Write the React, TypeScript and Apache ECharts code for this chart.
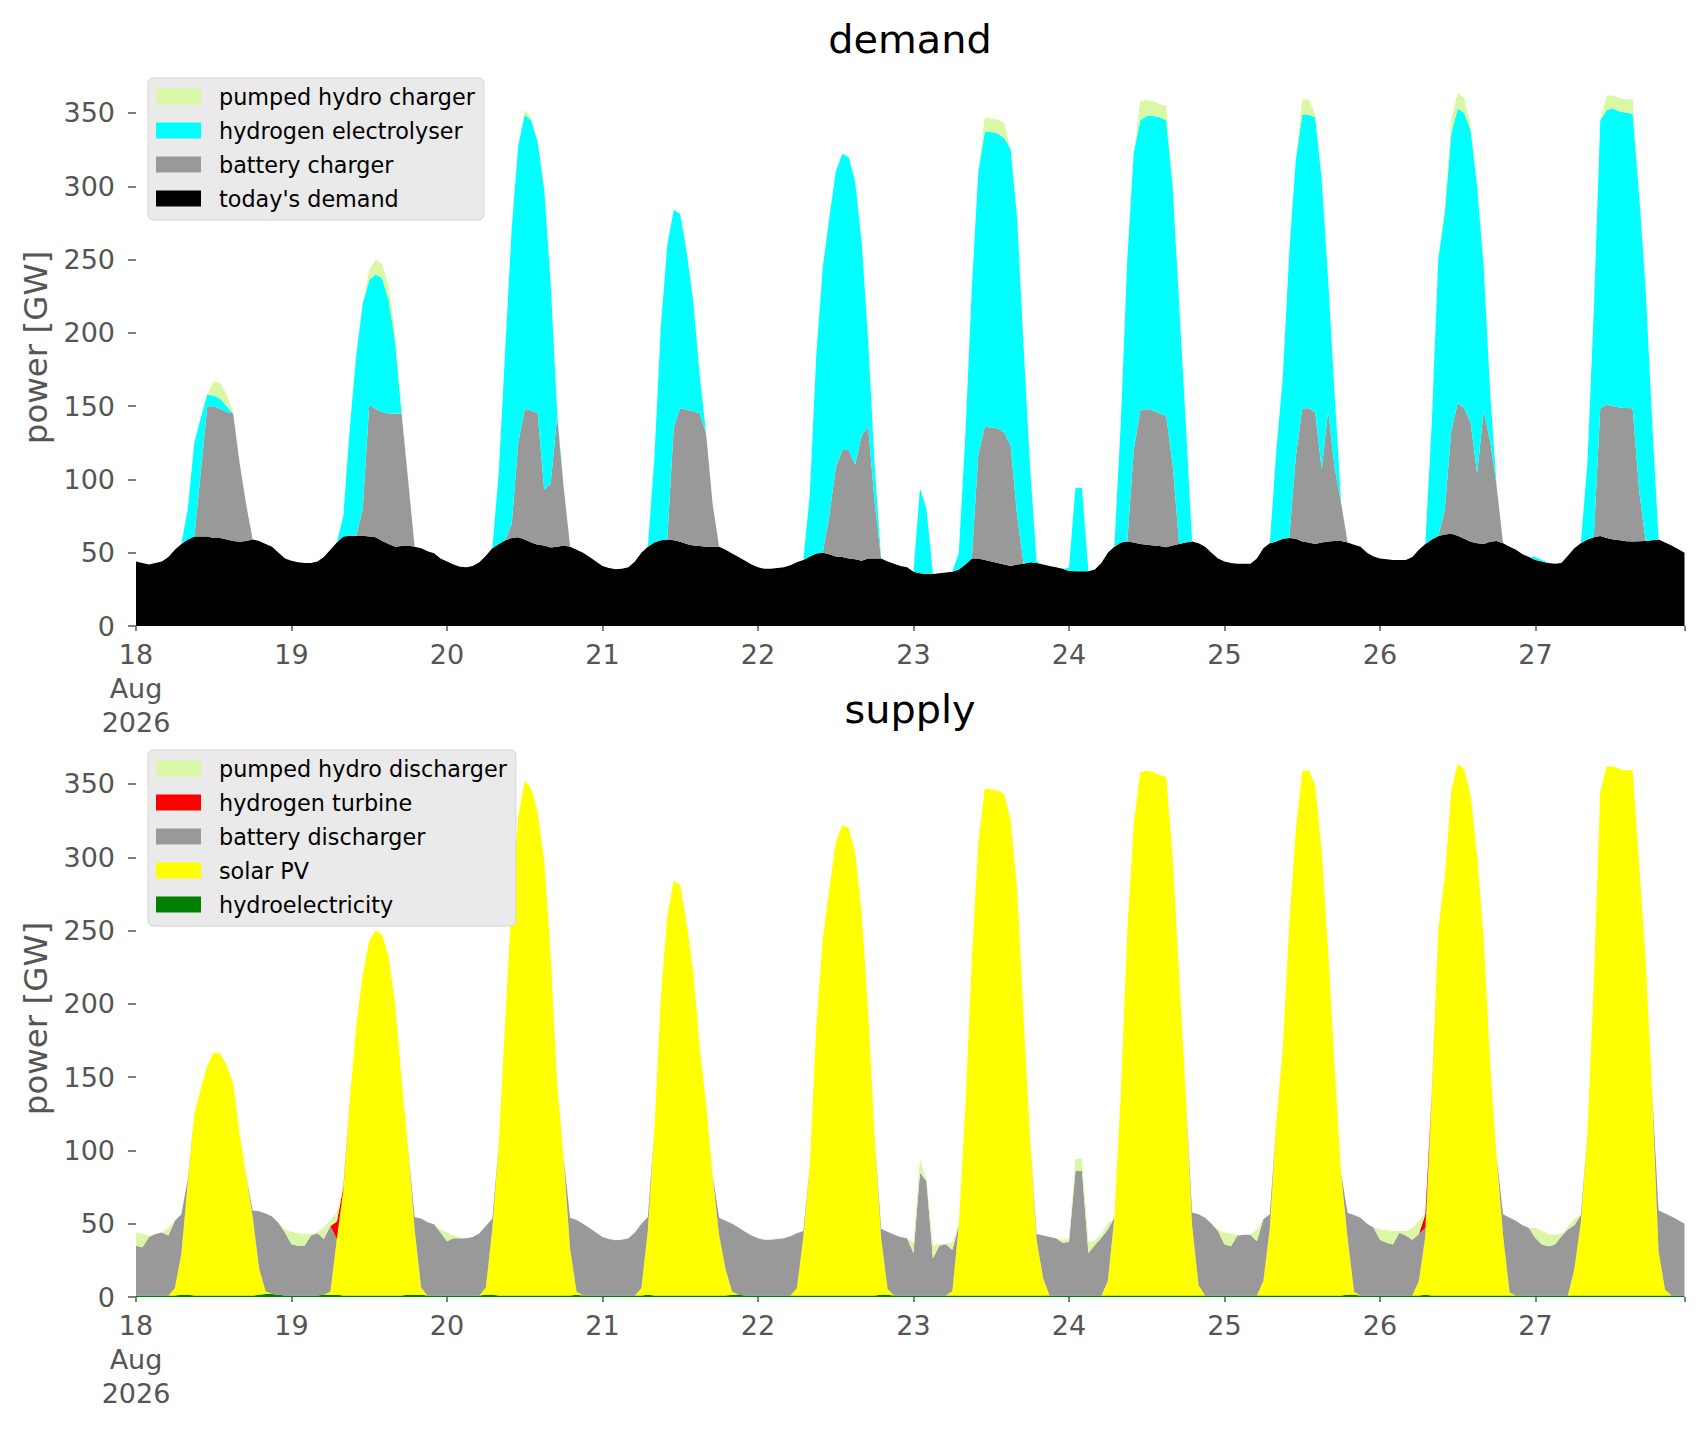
import { useEffect, useRef } from "react";
import * as echarts from "echarts";

// hourly values in GW, 18 Aug 2026 00:00 .. 27 Aug 2026 23:00 (one row per day)

const todaysDemand = [
  44, 43, 42, 43, 44, 47, 52, 56, 59, 61, 61, 61, 60, 60, 59, 58, 57.5, 58, 59, 58, 56, 54, 50, 46,
  44.5, 43.5, 43, 43, 44, 47, 52, 57, 61, 61.5, 61.5, 61.5, 61, 60.5, 58, 56, 54, 54.5, 55, 54, 53, 51, 49.6, 46,
  44, 42, 40.5, 40, 41, 43.5, 48, 53, 56, 58.5, 60, 60.5, 59, 57, 55.5, 55, 53.5, 54, 55, 54, 52, 50, 47, 44,
  41, 39.5, 38.7, 39, 40, 44, 50, 54, 57, 58.5, 59, 58.5, 57.5, 56, 55, 54.5, 54, 54, 54, 52, 49.5, 47, 44.5, 42,
  40, 39, 39, 39.5, 40, 41.5, 43.5, 45, 47.5, 49.5, 50, 49, 47.5, 47, 46, 45.5, 44.5, 46, 46, 46, 44, 42.5, 41, 40,
  37, 36, 35.5, 35.5, 36, 36.5, 37, 38.5, 42, 46, 46, 45, 44, 43, 42, 41, 42, 42.5, 43.5, 43, 42, 41, 40, 39,
  37.5, 37.4, 37.4, 37.4, 38.5, 43, 50, 54, 57, 57.6, 57, 56, 55.5, 55, 54.5, 53.8, 55, 56, 57, 57.6, 56.5, 54, 50, 46,
  44, 43, 42.5, 42.4, 42.4, 46, 53, 56.5, 57.6, 59.5, 60, 59.5, 57.6, 57, 56, 57, 57.6, 58, 58, 57, 55.5, 54, 50, 47.5,
  46, 45.5, 45, 45, 45, 47, 52, 56, 59, 61.4, 62.5, 63, 61.5, 59.5, 57.5, 56.5, 56, 57.5, 58, 56.5, 54, 52, 49, 47,
  45, 44, 43, 42.5, 43, 48, 53, 56.5, 59, 60.5, 61.4, 60, 59, 58.5, 57.8, 57.6, 57.8, 58, 58.5, 59, 57, 55, 52.5, 50,
];

const batteryCharger = [
  0, 0, 0, 0, 0, 0, 0, 0, 0, 0, 44, 89, 90, 88, 87, 87, 53.5, 25, 0, 0, 0, 0, 0, 0,
  0, 0, 0, 0, 0, 0, 0, 0, 0, 0, 0, 18.5, 90, 87.5, 88, 89, 91, 90.5, 45, 0, 0, 0, 0, 0,
  0, 0, 0, 0, 0, 0, 0, 0, 0, 0, 10, 64.5, 89, 90, 89.5, 38, 43.5, 89, 40, 0, 0, 0, 0, 0,
  0, 0, 0, 0, 0, 0, 0, 0, 0, 0, 0, 77.5, 91, 91.5, 91.5, 90.5, 77, 29, 0, 0, 0, 0, 0, 0,
  0, 0, 0, 0, 0, 0, 0, 0, 0, 0, 0, 26, 60.5, 73, 74, 64.5, 85.5, 90, 39, 0, 0, 0, 0, 0,
  0, 0, 0, 0, 0, 0, 0, 0, 0, 0, 71, 91, 91.5, 91.7, 90, 82, 33, 0, 0, 0, 0, 0, 0, 0,
  0, 0, 0, 0, 0, 0, 0, 0, 0, 0, 63, 91, 92.5, 92, 90.5, 89.7, 55, 0, 0, 0, 0, 0, 0, 0,
  0, 0, 0, 0, 0, 0, 0, 0, 0, 0, 0, 55.5, 91, 91.6, 90, 50, 89.4, 50, 26, 0, 0, 0, 0, 0,
  0, 0, 0, 0, 0, 0, 0, 0, 0, 0, 16.5, 70, 90.5, 89, 81, 47.5, 91, 68.5, 37.5, 0, 0, 0, 0, 0,
  0, 0, 0, 0, 0, 0, 0, 0, 0, 0, 87, 91, 91, 90.5, 91, 91, 35, 0, 0, 0, 0, 0, 0, 0,
];

const hydrogenElectrolyser = [
  0, 0, 0, 0, 0, 0, 0, 0, 21, 64, 37, 8, 7, 7, 4, 0, 0, 0, 0, 0, 0, 0, 0, 0,
  0, 0, 0, 0, 0, 0, 0, 0, 14, 73.5, 123.5, 140, 85, 92, 91, 77, 49, 0, 0, 0, 0, 0, 0, 0,
  0, 0, 0, 0, 0, 0, 0, 0, 49, 131.5, 202, 203, 201, 198, 185, 205, 137, 3, 0, 0, 0, 0, 0, 0,
  0, 0, 0, 0, 0, 0, 0, 0, 57, 145.5, 201, 148, 132.4, 107.5, 75.5, 26, 0, 0, 0, 0, 0, 0, 0, 0,
  0, 0, 0, 0, 0, 0, 0, 0, 42.5, 135.5, 195, 203, 202, 202, 200, 193, 132, 59, 25, 0, 0, 0, 0, 0,
  0, 58, 44.5, 0, 0, 0, 0, 11.5, 88, 184, 193, 201, 201.5, 201.3, 201, 202, 203, 147.5, 64.5, 1, 0, 0, 0, 0,
  2, 57, 57, 0, 0, 0, 0, 0, 82, 193, 203, 198, 200, 201, 202, 201.5, 190, 164, 83, 0, 0, 0, 0, 0,
  0, 0, 0, 0, 0, 0, 0, 0, 62, 110, 195, 203, 200, 200, 201, 198, 89, 50, 0, 0, 0, 0, 0, 0,
  0, 0, 0, 0, 0, 0, 0, 0, 80.5, 189, 203, 203, 201, 201.4, 199.5, 196, 98, 34, 0, 0, 0, 0, 0, 0,
  2, 1, 0, 0, 0, 0, 0, 0, 51, 154.5, 196.4, 201, 203, 202, 201.4, 200.8, 202, 172, 81.5, 0, 0, 0, 0, 0,
];

const pumpedHydroCharger = [
  0, 0, 0, 0, 0, 0, 0, 0, 0, 0, 0, 0, 10, 11, 8, 1, 0, 0, 0, 0, 0, 0, 0, 0,
  0, 0, 0, 0, 0, 0, 0, 0, 0, 0, 0, 0, 7, 10, 10, 10, 6, 3, 1, 0, 0, 0, 0, 0,
  0, 0, 0, 0, 0, 0, 0, 0, 0, 0, 0, 0, 3, 2, 0, 0, 0, 0, 0, 0, 0, 0, 0, 0,
  0, 0, 0, 0, 0, 0, 0, 0, 0, 0, 0, 0, 0, 0, 0, 0, 0, 0, 0, 0, 0, 0, 0, 0,
  0, 0, 0, 0, 0, 0, 0, 0, 0, 0, 0, 0, 0, 0, 0, 0, 0, 0, 0, 0, 0, 0, 0, 0,
  0, 0, 0, 0, 0, 0, 0, 0, 0, 0, 0, 10, 9, 9.5, 10, 0, 0, 0, 0, 0, 0, 0, 0, 0,
  0, 0, 0, 0, 0, 0, 0, 0, 0, 0, 0, 13, 11, 10, 9, 10, 1, 0, 0, 0, 0, 0, 0, 0,
  0, 0, 0, 0, 0, 0, 0, 0, 0, 0, 0, 0, 10, 11, 2, 0, 0, 0, 0, 0, 0, 0, 0, 0,
  0, 0, 0, 0, 0, 0, 0, 0, 0, 0, 5, 9, 11, 10, 4, 1, 0, 0, 0, 0, 0, 0, 0, 0,
  0, 0, 0, 0, 0, 0, 0, 0, 0, 0, 0, 10, 9, 9, 9, 10, 1, 0, 0, 0, 0, 0, 0, 0,
];

const hydroelectricity = [
  1, 1, 1, 1, 1, 1, 1, 1.5, 1.5, 1, 1, 1, 1, 1, 1, 1, 1, 1, 1, 1.5, 2, 2, 1.5, 1,
  1, 1, 1, 1, 1, 1.5, 1.5, 1.5, 1, 1, 1, 1, 1, 1, 1, 1, 1, 1, 1.5, 1.5, 1.5, 1, 1, 1,
  1, 1, 1, 1, 1, 1, 1.5, 1.5, 1, 1, 1, 1, 1, 1, 1, 1, 1, 1, 1, 1, 1.5, 1, 1, 1,
  1, 1, 1, 1, 1, 1, 1, 1.5, 1, 1, 1, 1, 1, 1, 1, 1, 1, 1, 1, 1, 1.5, 1.5, 1, 1,
  1, 1, 1, 1, 1, 1, 1, 1, 1, 1, 1, 1, 1, 1, 1, 1, 1, 1, 1, 1.5, 1.5, 1, 1, 1,
  1, 1, 1, 1, 1, 1, 1, 1, 1, 1, 1, 1, 1, 1, 1, 1, 1, 1, 1, 1, 1, 1, 1, 1,
  1, 1, 1, 1, 1, 1, 1, 1, 1, 1, 1, 1, 1, 1, 1, 1, 1, 1, 1, 1, 1, 1, 1, 1,
  1, 1, 1, 1, 1, 1, 1, 1, 1, 1, 1, 1, 1, 1, 1, 1, 1, 1, 1, 1.5, 1.5, 1, 1, 1,
  1, 1, 1, 1, 1, 1, 1, 1.5, 1, 1, 1, 1, 1, 1, 1, 1, 1, 1, 1, 1, 1, 1, 1, 1,
  1, 1, 1, 1, 1, 1, 1, 1, 1, 1, 1, 1, 1, 1, 1, 1, 1, 1, 1, 1, 1, 1, 1, 1,
];

const solarPV = [
  0, 0, 0, 0, 0, 0, 5, 28, 77, 124, 141, 157, 166, 165, 157, 145, 110, 82, 54, 18, 2, 0, 0, 0,
  0, 0, 0, 0, 0, 0, 2, 38, 72, 134, 184, 219, 242, 249, 246, 231, 199, 147, 100, 45, 5, 0, 0, 0,
  0, 0, 0, 0, 0, 0, 5, 45, 104, 189, 271, 327, 351, 346, 329, 297, 233, 145, 94, 32, 2, 0, 0, 0,
  0, 0, 0, 0, 0, 0, 5, 44, 113, 203, 259, 283, 280, 254, 221, 170, 130, 82, 41, 18, 2, 0, 0, 0,
  0, 0, 0, 0, 0, 0, 5, 40, 89, 184, 244, 277, 309, 321, 319, 302, 261, 194, 109, 39, 4, 0, 0, 0,
  0, 0, 0, 0, 0, 0, 3, 48, 129, 229, 309, 346, 345, 344.5, 342, 324, 277, 189, 107, 38, 12, 0, 0, 0,
  0, 0, 0, 0, 0, 0, 10, 53, 138, 249.6, 322, 357, 358, 357, 355, 354, 300, 219, 139, 48, 7, 0, 0, 0,
  0, 0, 0, 0, 0, 0, 10, 46, 118.6, 168.5, 254, 317, 357.6, 358.6, 348, 304, 235, 157, 83, 39, 2, 0, 0, 0,
  0, 0, 0, 0, 0, 0, 10, 40, 137, 249.4, 286, 344, 363, 359, 341, 300, 244, 159, 94.5, 41, 2, 0, 0, 0,
  0, 0, 0, 0, 0, 0, 18, 50, 109, 214, 343.8, 361, 361, 359, 358.2, 358.4, 294.8, 229, 139, 30, 4, 0, 0, 0,
];

const batteryDischarger = [
  34, 33, 40, 42, 43, 41, 46, 27, 2, 0, 0, 0, 0, 0, 0, 0, 0, 0, 4, 39, 53, 53, 49, 43,
  35, 34, 34, 41, 42.5, 38, 45, 0, 0, 0, 0, 0, 0, 0, 0, 0, 0, 0, 0, 8, 47, 50, 48.6, 43,
  37, 39, 39, 39, 40, 42.5, 42, 7, 0, 0, 0, 0, 0, 0, 0, 0, 0, 0, 0, 21, 49, 49, 46, 43,
  40, 38.5, 37.7, 38, 39, 43, 44, 9, 0, 0, 0, 0, 0, 0, 0, 0, 0, 0, 12, 33, 46.5, 46, 43.5, 41,
  39, 38, 38, 38.5, 39, 40.5, 37.5, 4, 0, 0, 0, 0, 0, 0, 0, 0, 0, 0, 0, 6, 39, 41.5, 40, 39,
  29, 84, 78, 25.5, 34, 35, 28, 0, 0, 0, 0, 0, 0, 0, 0, 0, 0, 0, 0, 4, 29, 40, 39, 36,
  36.5, 85, 85, 29, 34.5, 39.4, 35, 0, 0, 0, 0, 0, 0, 0, 0, 0, 0, 0, 0, 8.6, 48.5, 53, 49, 44,
  35, 33.6, 41, 41.4, 41.4, 37, 42, 9.5, 0, 0, 0, 0, 0, 0, 0, 0, 0, 0, 0, 17, 52.5, 53, 49, 46.5,
  38, 36, 34.8, 42.8, 41, 38, 32, 5.5, 0, 0, 0, 0, 0, 0, 0, 0, 0, 0, 0, 14.5, 51, 51, 48, 46,
  39, 34.8, 33.6, 34.8, 40.5, 45, 30, 5, 0, 0, 0, 0, 0, 0, 0, 0, 0, 0, 0, 28, 52, 54, 51.5, 49,
];

const hydrogenTurbine = [
  0, 0, 0, 0, 0, 0, 0, 0, 0, 0, 0, 0, 0, 0, 0, 0, 0, 0, 0, 0, 0, 0, 0, 0,
  0, 0, 0, 0, 0, 0, 0, 12, 2, 0, 0, 0, 0, 0, 0, 0, 0, 0, 0, 0, 0, 0, 0, 0,
  0, 0, 0, 0, 0, 0, 0, 0, 0, 0, 0, 0, 0, 0, 0, 0, 0, 0, 0, 0, 0, 0, 0, 0,
  0, 0, 0, 0, 0, 0, 0, 0, 0, 0, 0, 0, 0, 0, 0, 0, 0, 0, 0, 0, 0, 0, 0, 0,
  0, 0, 0, 0, 0, 0, 0, 0, 0, 0, 0, 0, 0, 0, 0, 0, 0, 0, 0, 0, 0, 0, 0, 0,
  0, 0, 0, 0, 0, 0, 0, 0, 0, 0, 0, 0, 0, 0, 0, 0, 0, 0, 0, 0, 0, 0, 0, 0,
  0, 0, 0, 0, 0, 0, 0, 0, 0, 0, 0, 0, 0, 0, 0, 0, 0, 0, 0, 0, 0, 0, 0, 0,
  0, 0, 0, 0, 0, 0, 0, 0, 0, 0, 0, 0, 0, 0, 0, 0, 0, 0, 0, 0, 0, 0, 0, 0,
  0, 0, 0, 0, 0, 0, 0, 9.5, 1.5, 0, 0, 0, 0, 0, 0, 0, 0, 0, 0, 0, 0, 0, 0, 0,
  0, 0, 0, 0, 0, 0, 0, 0, 0, 0, 0, 0, 0, 0, 0, 0, 0, 0, 0, 0, 0, 0, 0, 0,
];

const pumpedHydroDischarger = [
  9, 9, 1, 0, 0, 5, 0, 0, 0, 0, 0, 0, 0, 0, 0, 0, 0, 0, 0, 0, 0, 0, 0, 2,
  8.5, 8.5, 8, 1, 0.5, 8, 4, 6, 0, 0, 0, 0, 0, 0, 0, 0, 0, 0, 0, 0, 0, 0, 0, 2,
  6, 2, 0.5, 0, 0, 0, 0, 0, 0, 0, 0, 0, 0, 0, 0, 0, 0, 0, 0, 0, 0, 0, 0, 0,
  0, 0, 0, 0, 0, 0, 0, 0, 0, 0, 0, 0, 0, 0, 0, 0, 0, 0, 0, 0, 0, 0, 0, 0,
  0, 0, 0, 0, 0, 0, 0, 0, 0, 0, 0, 0, 0, 0, 0, 0, 0, 0, 0, 0, 0, 0, 0, 0,
  7, 9, 1, 9, 1, 0.5, 5, 1, 0, 0, 0, 0, 0, 0, 0, 0, 0, 0, 0, 0, 0, 0, 0, 2,
  2, 8.4, 8.4, 7.4, 3, 2.6, 4, 0, 0, 0, 0, 0, 0, 0, 0, 0, 0, 0, 0, 0, 0, 0, 0, 1,
  8, 8.4, 0.5, 0, 0, 8, 0, 0, 0, 0, 0, 0, 0, 0, 0, 0, 0, 0, 0, 0, 0, 0, 0, 0,
  7, 8.5, 9.2, 1.2, 3, 8, 9, 0, 0, 0, 0, 0, 0, 0, 0, 0, 0, 0, 0, 0, 0, 0, 0, 0,
  7, 9.2, 8.4, 6.7, 1.5, 2, 4, 0.5, 0, 0, 0, 0, 0, 0, 0, 0, 0, 0, 0, 0, 0, 0, 0, 0,
];

const powerTicks = [0, 50, 100, 150, 200, 250, 300, 350];

const START = Date.UTC(2026, 7, 18);
const MONTHS = ["Jan", "Feb", "Mar", "Apr", "May", "Jun", "Jul", "Aug", "Sep", "Oct", "Nov", "Dec"];
const FONT = "DejaVu Sans";
const GREY = "#555555";
const LAST_HOUR = todaysDemand.length - 1;

// one category per hour: "2026-08-18 00:00" ...
const hours = todaysDemand.map((_, i) =>
  new Date(START + i * 3600 * 1000).toISOString().slice(0, 16).replace("T", " "),
);

const isMidnight = (index: number) => hours[index].endsWith("00:00");

const dayLabel = (_value: string, index: number) => {
  const d = new Date(START + index * 3600 * 1000);
  const day = String(d.getUTCDate());
  if (index === 0) return `${day}\n${MONTHS[d.getUTCMonth()]}\n${d.getUTCFullYear()}`;
  return day;
};

const area = (name: string, color: string, values: number[], stack: string, axis: number) => ({
  name,
  type: "line",
  stack,
  xAxisIndex: axis,
  yAxisIndex: axis,
  data: values,
  symbol: "none",
  showSymbol: false,
  lineStyle: { width: 0, color },
  itemStyle: { color },
  areaStyle: { color, opacity: 1 },
  emphasis: { disabled: true },
  silent: true,
});

const xAxisFor = (gridIndex: number) => ({
  type: "category",
  gridIndex,
  data: hours,
  boundaryGap: false,
  axisLine: { show: false },
  axisTick: {
    show: true,
    length: 5,
    interval: (index: number) => isMidnight(index) || index === LAST_HOUR,
    lineStyle: { color: GREY, width: 1.5 },
  },
  axisLabel: {
    interval: (index: number) => isMidnight(index),
    formatter: dayLabel,
    color: GREY,
    fontSize: 27,
    fontFamily: FONT,
    margin: 11,
    lineHeight: 34,
  },
  splitLine: { show: false },
});

const yAxisFor = (gridIndex: number) => ({
  type: "value",
  gridIndex,
  min: 0,
  max: 380,
  name: "power [GW]",
  nameLocation: "middle",
  nameGap: 83,
  nameTextStyle: { fontSize: 32.5, color: GREY, fontFamily: FONT },
  axisLine: { show: false },
  axisTick: {
    show: true,
    length: 8,
    customValues: powerTicks,
    lineStyle: { color: GREY, width: 1.5 },
  },
  axisLabel: {
    customValues: powerTicks,
    color: GREY,
    fontSize: 27,
    fontFamily: FONT,
    margin: 21,
  },
  splitLine: { show: false },
});

const legendFor = (names: string[], top: number) => ({
  data: names,
  orient: "vertical",
  left: 148,
  top,
  icon: "rect",
  itemWidth: 45,
  itemHeight: 16,
  itemGap: 12,
  padding: [7.5, 9, 10.5, 8],
  backgroundColor: "#eaeaea",
  borderColor: "#d6d6d6",
  borderWidth: 1,
  borderRadius: 5,
  selectedMode: false,
  itemStyle: { borderWidth: 0 },
  textStyle: {
    fontSize: 22.3,
    fontFamily: FONT,
    color: "#000000",
    lineHeight: 22,
    padding: [0, 0, 0, 13],
  },
});

const titleText = (text: string, y: number) => ({
  type: "text",
  x: 910,
  y,
  silent: true,
  style: {
    text,
    fill: "#000000",
    font: `39.8px '${FONT}'`,
    textAlign: "center",
    textVerticalAlign: "middle",
  },
});

export default function App() {
  const chartRef = useRef<HTMLDivElement>(null);

  useEffect(() => {
    document.body.style.margin = "0";
    if (!chartRef.current) return;
    const chart = echarts.init(chartRef.current, null, { renderer: "svg" });

    const option = {
      animation: false,
      backgroundColor: "#ffffff",
      textStyle: { fontFamily: FONT },
      grid: [
        { left: 136, right: 21.5, top: 69, height: 557 },
        { left: 136, right: 21.5, top: 740, height: 557 },
      ],
      xAxis: [xAxisFor(0), xAxisFor(1)],
      yAxis: [yAxisFor(0), yAxisFor(1)],
      legend: [
        legendFor(["pumped hydro charger", "hydrogen electrolyser", "battery charger", "today's demand"], 78),
        legendFor(
          ["pumped hydro discharger", "hydrogen turbine", "battery discharger", "solar PV", "hydroelectricity"],
          750,
        ),
      ],
      graphic: [titleText("demand", 39), titleText("supply", 709)],
      series: [
        area("today's demand", "#000000", todaysDemand, "demand", 0),
        area("battery charger", "#999999", batteryCharger, "demand", 0),
        area("hydrogen electrolyser", "#00ffff", hydrogenElectrolyser, "demand", 0),
        area("pumped hydro charger", "#daf7a6", pumpedHydroCharger, "demand", 0),
        area("hydroelectricity", "#008000", hydroelectricity, "supply", 1),
        area("solar PV", "#ffff00", solarPV, "supply", 1),
        area("battery discharger", "#999999", batteryDischarger, "supply", 1),
        area("hydrogen turbine", "#ff0000", hydrogenTurbine, "supply", 1),
        area("pumped hydro discharger", "#daf7a6", pumpedHydroDischarger, "supply", 1),
      ],
    };

    chart.setOption(option as echarts.EChartsOption);

    return () => {
      chart.dispose();
    };
  }, []);

  return <div ref={chartRef} style={{ width: "1706px", height: "1431px" }} />;
}
